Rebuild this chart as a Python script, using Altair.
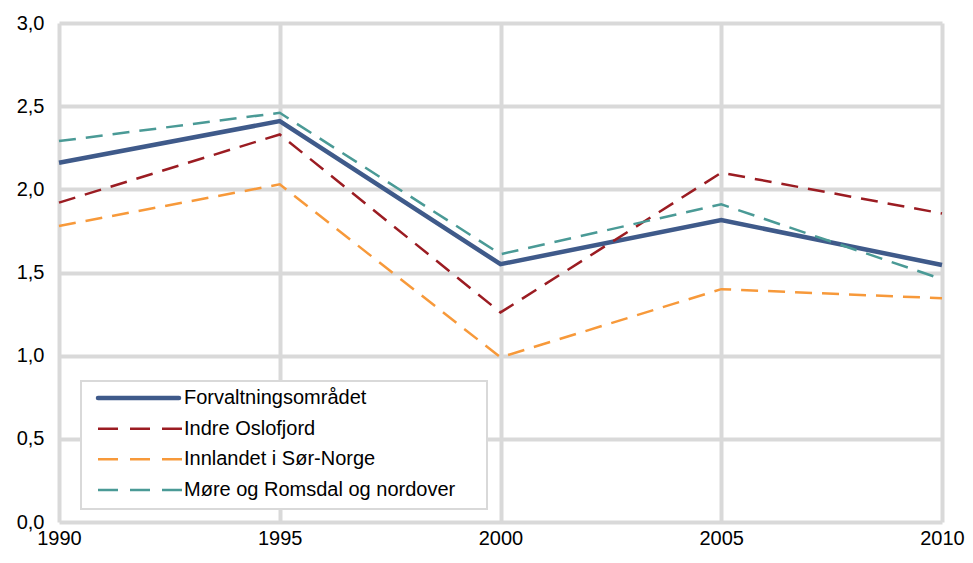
import altair as alt
import pandas as pd

years = [1990, 1995, 2000, 2005, 2010]
series = ["Forvaltningsområdet", "Indre Oslofjord", "Innlandet i Sør-Norge", "Møre og Romsdal og nordover"]
forvaltning = [2.16, 2.41, 1.55, 1.815, 1.545]
indre = [1.92, 2.33, 1.26, 2.10, 1.855]
innlandet = [1.78, 2.03, 0.99, 1.40, 1.345]
more = [2.29, 2.46, 1.61, 1.91, 1.46]
colors = ["#3f5a8a", "#9b1c22", "#f7993a", "#4a9a96"]

rows = []
for name, vals in zip(series, [forvaltning, indre, innlandet, more]):
    for yr, v in zip(years, vals):
        rows.append({"year": yr, "value": v, "series": name})
df = pd.DataFrame(rows)
leg = pd.DataFrame({"series": series, "row": list(range(len(series)))})

FONT = "Liberation Sans"
color_scale = alt.Scale(domain=series, range=colors)

x_enc = alt.X("year:Q", scale=alt.Scale(domain=[1990, 2010], nice=False, zero=False),
              axis=alt.Axis(values=years, format="d", title=None, labelFontSize=20,
                            labelPadding=6, labelFont=FONT, labelColor="#000000",
                            grid=True, gridColor="#d9d9d9", gridWidth=4,
                            domain=False, ticks=False, labelFlush=False))
y_enc = alt.Y("value:Q", scale=alt.Scale(domain=[0, 3], nice=False),
              axis=alt.Axis(values=[0, 0.5, 1, 1.5, 2, 2.5, 3], title=None, labelFontSize=20,
                            labelFont=FONT, labelColor="#000000", labelPadding=15,
                            labelExpr="replace(format(datum.value, '.1f'), '.', ',')",
                            grid=True, gridColor="#d9d9d9", gridWidth=4,
                            domain=False, ticks=False))
col = alt.Color("series:N", scale=color_scale, legend=None)

base = alt.Chart(df)
solid = base.transform_filter(alt.datum.series == series[0]).mark_line(
    strokeWidth=4.5, strokeJoin="miter").encode(x=x_enc, y=y_enc, color=col, order="year:Q")
dashed = base.transform_filter(alt.datum.series != series[0]).mark_line(
    strokeWidth=2.5, strokeDash=[17, 10], strokeJoin="miter").encode(
    x=x_enc, y=y_enc, color=col, detail="series:N", order="year:Q")
lines = alt.layer(solid, dashed)

# legend
box = alt.Chart(leg).mark_rect(fill="#ffffff", stroke="#d9d9d9", strokeWidth=2).encode(
    x=alt.value(22), x2=alt.value(428), y=alt.value(358), y2=alt.value(486))
ly = alt.Y("row:Q", scale=alt.Scale(domain=[0, 3], range=[375, 467]), axis=None)
leg_base = alt.Chart(leg)
leg_solid = leg_base.transform_filter(alt.datum.row == 0).mark_rule(
    strokeWidth=4.5, strokeCap="round").encode(
    x=alt.value(39), x2=alt.value(120), y=ly, color=col)
leg_dashed = leg_base.transform_filter(alt.datum.row > 0).mark_rule(
    strokeWidth=2.5, strokeDash=[20, 12]).encode(
    x=alt.value(39), x2=alt.value(123), y=ly, color=col)
leg_text = leg_base.mark_text(align="left", baseline="middle", fontSize=20, font=FONT,
                              color="#000000").encode(
    x=alt.value(125), y=ly, text="series:N")
legend = alt.layer(box, leg_solid, leg_dashed, leg_text)

chart = alt.layer(lines, legend).resolve_scale(
    y="independent"
).properties(
    width=883, height=499,
    padding={"left": 51, "top": 15, "right": 23, "bottom": 27},
    autosize=alt.AutoSizeParams(type="none"),
).configure_view(stroke=None)

chart.save("out.html", embed_options={"renderer": "svg", "actions": False})
